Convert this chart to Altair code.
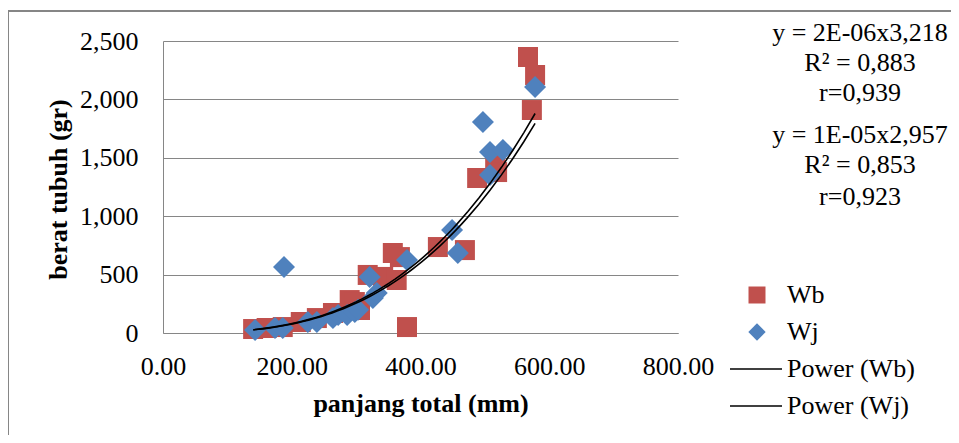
import altair as alt
import pandas as pd

# ---- data ----
WB_X = [140, 161, 186, 214, 239, 264, 290, 298, 306, 318, 342, 357, 363, 368, 379, 427, 469, 488, 516, 519, 567, 573, 578]
WB_Y = [34, 43, 51, 94, 128, 171, 282, 265, 197, 497, 480, 685, 454, 650, 51, 736, 710, 1327, 1481, 1378, 2363, 1909, 2209]
WJ_X = [143, 174, 186, 188, 225, 239, 264, 272, 286, 298, 303, 326, 321, 332, 379, 449, 458, 497, 508, 528, 508, 578]
WJ_Y = [26, 43, 43, 565, 94, 94, 128, 154, 154, 180, 200, 300, 480, 342, 625, 882, 685, 1806, 1550, 1567, 1353, 2106]

SERIES = ["Wb", "Wj"]
LEGEND_LABELS = ["Wb", "Wj", "Power (Wb)", "Power (Wj)"]
ANNOT_WB = ["y = 2E-06x3,218", "R\u00b2 = 0,883", "r=0,939"]
ANNOT_WJ = ["y = 1E-05x2,957", "R\u00b2 = 0,853", "r=0,923"]
X_TICKS = [0, 200, 400, 600, 800]
Y_TICKS = [0, 500, 1000, 1500, 2000, 2500]

RED = "#C0504D"
BLUE = "#4F81BD"
GRID = "#868686"
FONT = "'Liberation Serif', 'Times New Roman', Times, serif"
FS = 26

df = pd.DataFrame(
    {"x": WB_X + WJ_X, "y": WB_Y + WJ_Y, "series": [SERIES[0]] * len(WB_X) + [SERIES[1]] * len(WJ_X)}
)

W, H = 515, 292

xenc = alt.X(
    "x:Q",
    scale=alt.Scale(domain=[0, 800], nice=False),
    axis=alt.Axis(
        values=X_TICKS, format=".2f", title="panjang total (mm)", grid=False,
        ticks=False, tickSize=0, labelPadding=20, labelFlush=False,
        titleX=W / 2, titleY=70, titleBaseline="middle", titleAlign="center",
    ),
)
yenc = alt.Y(
    "y:Q",
    scale=alt.Scale(domain=[0, 2500], nice=False),
    axis=alt.Axis(
        values=Y_TICKS, format=",.0f", title="berat tubuh (gr)", grid=True,
        ticks=False, tickSize=0, labelPadding=25, labelFlush=False, titleAngle=-90,
        titleX=-105, titleY=148, titleBaseline="middle", titleAlign="center",
    ),
)

base = alt.Chart(df)

pts_wb = base.transform_filter(alt.datum.series == "Wb").mark_point(
    shape="square", filled=True, size=400, color=RED, opacity=1
).encode(x=xenc, y=yenc)

pts_wj = base.transform_filter(alt.datum.series == "Wj").mark_point(
    shape="diamond", filled=True, size=484, color=BLUE, opacity=1
).encode(x="x:Q", y="y:Q")

fit_wb = base.transform_filter(alt.datum.series == "Wb").transform_regression(
    "x", "y", method="pow"
).mark_line(color="black", strokeWidth=1.6).encode(x="x:Q", y="y:Q")

fit_wj = base.transform_filter(alt.datum.series == "Wj").transform_regression(
    "x", "y", method="pow"
).mark_line(color="black", strokeWidth=1.6).encode(x="x:Q", y="y:Q")

one = alt.Data(values=[{}])

border = alt.Chart(one).mark_rect(fillOpacity=0, stroke=GRID, strokeWidth=2).encode(
    x=alt.value(-155), x2=alt.value(900), y=alt.value(-30), y2=alt.value(600)
)

layers = [border, pts_wb, pts_wj, fit_wb, fit_wj]

# legend
leg_sym_x = 594
leg_text_x = 624
leg_y = [254, 291, 328, 365]
layers.append(alt.Chart(one).mark_point(shape="square", filled=True, size=289, color=RED, opacity=1).encode(
    x=alt.value(leg_sym_x), y=alt.value(leg_y[0])))
layers.append(alt.Chart(one).mark_point(shape="diamond", filled=True, size=300, color=BLUE, opacity=1).encode(
    x=alt.value(leg_sym_x), y=alt.value(leg_y[1])))
for yy in leg_y[2:]:
    layers.append(alt.Chart(one).mark_rule(color="black", strokeWidth=1.5).encode(
        x=alt.value(567), x2=alt.value(619), y=alt.value(yy)))
for lab, yy in zip(LEGEND_LABELS, leg_y):
    layers.append(alt.Chart(one).mark_text(
        align="left", baseline="middle", font=FONT, fontSize=FS, color="black"
    ).encode(x=alt.value(leg_text_x), y=alt.value(yy), text=alt.value(lab)))

# annotations
for lab, yy in zip(ANNOT_WB, [-8, 22, 52]):
    layers.append(alt.Chart(one).mark_text(
        align="center", baseline="middle", font=FONT, fontSize=FS, color="black"
    ).encode(x=alt.value(697), y=alt.value(yy), text=alt.value(lab)))
for lab, yy in zip(ANNOT_WJ, [94, 124, 156]):
    layers.append(alt.Chart(one).mark_text(
        align="center", baseline="middle", font=FONT, fontSize=FS, color="black"
    ).encode(x=alt.value(697), y=alt.value(yy), text=alt.value(lab)))

chart = alt.layer(*layers).properties(
    width=W, height=H,
    autosize=alt.AutoSizeParams(type="none"),
    padding={"left": 155, "top": 33, "right": 273, "bottom": 102},
).configure_view(stroke=None).configure_axis(
    labelFont=FONT, labelFontSize=FS, labelColor="black",
    titleFont=FONT, titleFontSize=FS, titleColor="black", titleFontWeight="bold",
    domainColor=GRID, gridColor=GRID, gridWidth=1, domainWidth=1,
).configure_axisY(domain=True).configure_axisX(domain=True)

chart.save("out.html", embed_options={"renderer": "svg", "actions": False})
